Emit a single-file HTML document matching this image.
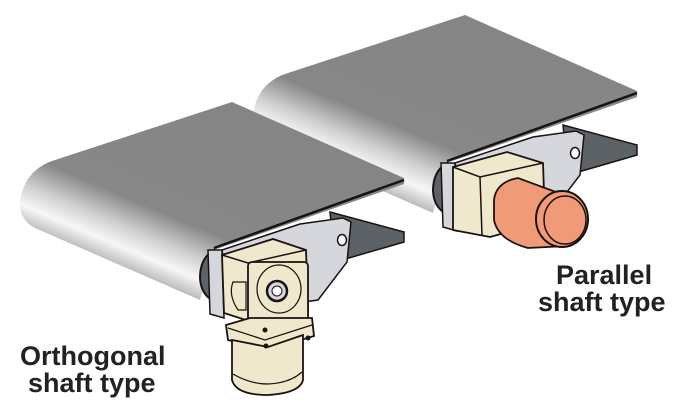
<!DOCTYPE html>
<html><head><meta charset="utf-8"><style>
html,body{margin:0;padding:0;background:#fff;}
svg{display:block;}
text{font-family:"Liberation Sans",sans-serif;font-weight:bold;font-size:27px;fill:#222;}
</style></head><body>
<svg width="700" height="410" viewBox="0 0 700 410" xmlns="http://www.w3.org/2000/svg">
<defs>
<linearGradient id="belt" gradientUnits="userSpaceOnUse" x1="0" y1="0" x2="-78" y2="184">
<stop offset="0" stop-color="#858585"/>
<stop offset="0.66" stop-color="#878787"/>
<stop offset="0.8" stop-color="#cfcfcf"/>
<stop offset="0.9" stop-color="#f7f7f7"/>
<stop offset="1" stop-color="#b5b5b5"/>
</linearGradient>
<g id="conv">
  <polygon points="330,212 404,232 404,242 335,262" fill="#5d6266" stroke="#1a1212" stroke-width="1.5"/>
  <path d="M232,102 L404,178 L404,184 L214,250 L200,300 L35,228 Q16,218 21,195 Q28,168 55,160 Z" fill="url(#belt)"/>
  <path d="M404,180 L214,248" stroke="#1a1212" stroke-width="2.5" fill="none"/>
  <path d="M214,250 Q200,258 200,278 Q201,294 212,300 Z" fill="#5d6266" stroke="#1a1212" stroke-width="2"/>
  <polygon points="222,250 300,224 343,218 351,222 347,262 318,300 232,312" fill="#d5d7dd" stroke="#1a1212" stroke-width="1.5"/>
  <ellipse cx="342" cy="240" rx="4.5" ry="5.5" fill="#fff" stroke="#1a1212" stroke-width="1.5"/>
  <polygon points="208,250 222,250 224,318 210,314" fill="#d5d7dd" stroke="#1a1212" stroke-width="1.5"/>
</g>
</defs>

<g transform="translate(233,-87)">
  <use href="#conv"/>
</g>
<polygon points="453,167 507,152 543,163 545,222 490,237 453,230" fill="#f0e8cc" stroke="#1a1212" stroke-width="1.8"/>
<polyline points="453,167 480,177 543,163" fill="none" stroke="#1a1212" stroke-width="1.5"/>
<polyline points="480,177 482,235" fill="none" stroke="#1a1212" stroke-width="1.5"/>
<path d="M494,200 Q496,182 518,178 L556,192 L566,246 L528,248 Q498,240 494,220 Z" fill="#f09a78" stroke="#1a1212" stroke-width="1.8"/>
<ellipse cx="562" cy="219" rx="26" ry="28" fill="#f09a78" stroke="#1a1212" stroke-width="2"/>
<ellipse cx="565" cy="220" rx="21" ry="24" fill="#f09a78" stroke="#1a1212" stroke-width="1.5"/>

<use href="#conv"/>
<polygon points="222,255 273,239 306,250 308,310 252,322 224,313" fill="#f0e8cc" stroke="#1a1212" stroke-width="1.8"/>
<polyline points="222,255 248,263 306,250" fill="none" stroke="#1a1212" stroke-width="1.5"/>
<rect x="248" y="262" width="60" height="60" rx="4" fill="#f0e8cc" stroke="#1a1212" stroke-width="1.8"/>
<ellipse cx="279" cy="289" rx="22" ry="24" fill="none" stroke="#1a1212" stroke-width="1.2"/>
<circle cx="277" cy="291" r="10" fill="#d5d7dd" stroke="#1a1212" stroke-width="2.5"/>
<circle cx="277" cy="291" r="5" fill="#fff" stroke="#1a1212" stroke-width="1"/>
<path d="M233,282 Q228,295 238,310 L246,310 L246,282 Z" fill="#f0e8cc" stroke="#1a1212" stroke-width="1.2"/>
<polygon points="226,325 250,318 312,318 314,336 268,350 228,340" fill="#f0e8cc" stroke="#1a1212" stroke-width="1.8"/>
<polyline points="228,328 265,340 312,325" fill="none" stroke="#1a1212" stroke-width="1.2"/>
<path d="M232,340 L232,380 Q236,395 268,395 Q300,393 303,380 L303,335 L268,347 Z" fill="#f0e8cc" stroke="#1a1212" stroke-width="1.8"/>
<path d="M233,374 Q250,384 268,384 Q290,383 302,372" fill="none" stroke="#1a1212" stroke-width="1.2"/>
<circle cx="265" cy="330" r="2.5" fill="#1a1212"/>
<circle cx="266" cy="346" r="2.5" fill="#1a1212"/>
<circle cx="308" cy="338" r="2.5" fill="#1a1212"/>

<text x="20" y="365">Orthogonal</text>
<text x="28" y="392">shaft type</text>
<text x="556" y="284">Parallel</text>
<text x="538" y="311">shaft type</text>
</svg>
</body></html>
